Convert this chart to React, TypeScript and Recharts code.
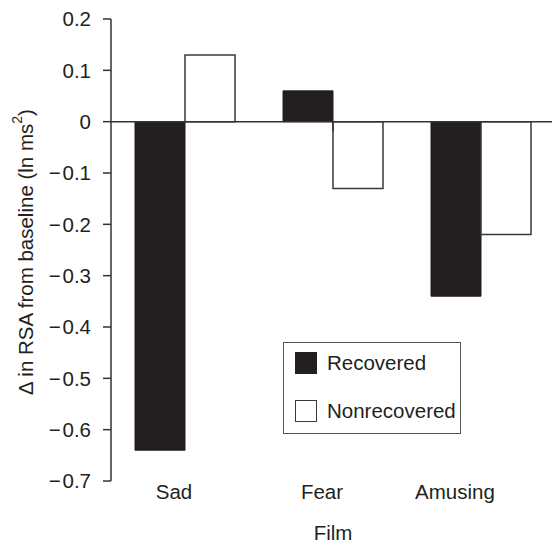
import React from "react"
import { BarChart, Bar, XAxis, YAxis, ReferenceLine, Legend } from "recharts"

const films = ["Sad", "Fear", "Amusing"]
const recovered = [-0.64, 0.06, -0.34]
const nonrecovered = [0.13, -0.13, -0.22]
const yTicks = [0.2, 0.1, 0, -0.1, -0.2, -0.3, -0.4, -0.5, -0.6, -0.7]
const seriesNames = ["Recovered", "Nonrecovered"]

const data = films.map((film, i) => ({
  film,
  Recovered: recovered[i],
  Nonrecovered: nonrecovered[i],
}))

const ink = "#231f20"
const axisColor = "#333"
const font = "'Liberation Sans', Arial, Helvetica, sans-serif"
const fs = 20.5

const swatch: Record<string, { fill: string; stroke: string }> = {
  Recovered: { fill: ink, stroke: ink },
  Nonrecovered: { fill: "#fff", stroke: "#3a3a3a" },
}

// labels in the original sit a little left of the bar pairs
const labelNudge: Record<string, number> = { Sad: -11, Fear: -11, Amusing: -26 }

function formatTick(v: number) {
  if (Math.abs(v) < 1e-9) return "0"
  const s = Math.abs(v).toFixed(1)
  return v < 0 ? "\u2212\u200a" + s : s
}

function FilmTick(props: any) {
  const { x, y, payload } = props
  return (
    <text x={x + (labelNudge[payload.value] || 0)} y={y} dy="0.71em" textAnchor="middle" fontSize={fs} fill={ink}>
      {payload.value}
    </text>
  )
}

function YLabel(props: any) {
  const vb = props.viewBox || { y: 19, height: 462 }
  const cx = 25
  const cy = vb.y + vb.height / 2 + 2
  return (
    <text
      x={cx}
      y={cy}
      transform={`rotate(-90 ${cx} ${cy})`}
      textAnchor="middle"
      dominantBaseline="central"
      fontSize={fs}
      fill={ink}
    >
      {"\u0394 in RSA from baseline (ln ms"}
      <tspan dy={-8} fontSize={14}>2</tspan>
      <tspan dy={8}>)</tspan>
    </text>
  )
}

function LegendBox() {
  return (
    <div
      style={{
        border: "1.5px solid #555",
        boxSizing: "border-box",
        width: 178,
        height: 92,
        padding: "9px 0 0 11px",
        fontFamily: font,
        fontSize: fs,
        color: ink,
        background: "#fff",
      }}
    >
      {seriesNames.map((name, i) => (
        <div
          key={name}
          style={{ display: "flex", alignItems: "center", height: 22, marginBottom: i === 0 ? 26 : 0 }}
        >
          <span
            style={{
              display: "inline-block",
              flex: "none",
              width: 22,
              height: 22,
              boxSizing: "border-box",
              background: swatch[name].fill,
              border: `1.5px solid ${swatch[name].stroke}`,
              marginRight: 10,
            }}
          />
          <span style={{ whiteSpace: "nowrap" }}>{name}</span>
        </div>
      ))}
    </div>
  )
}

export default function App() {
  return (
    <div
      style={{
        position: "absolute",
        left: 0,
        top: 0,
        width: 552,
        height: 543,
        overflow: "hidden",
        background: "#fff",
        fontFamily: font,
      }}
    >
      <BarChart
        width={556}
        height={543}
        data={data}
        margin={{ top: 19, right: 1, bottom: 0, left: 0 }}
        barSize={50}
        barGap={0}
      >
        <XAxis
          dataKey="film"
          axisLine={false}
          tickLine={false}
          tickSize={0}
          tickMargin={3}
          height={62}
          interval={0}
          tick={<FilmTick />}
          label={{ value: "Film", position: "insideBottom", offset: 3, fontSize: fs, fill: ink }}
        />
        <XAxis xAxisId="edges" type="number" domain={[0, 3]} hide />
        <YAxis
          width={111}
          domain={[-0.7, 0.2]}
          ticks={yTicks}
          interval={0}
          tickFormatter={formatTick}
          tickSize={8}
          tickMargin={12}
          stroke={axisColor}
          strokeWidth={1.5}
          tick={{ fontSize: fs, fill: ink }}
          label={<YLabel />}
        />
        <Legend
          layout="vertical"
          align="center"
          verticalAlign="middle"
          content={<LegendBox />}
          wrapperStyle={{ left: 283, top: 342, width: 178, height: 92 }}
        />
        <Bar dataKey="Recovered" fill={ink} stroke={ink} strokeWidth={1} isAnimationActive={false} />
        <Bar dataKey="Nonrecovered" fill="#fff" stroke="#3a3a3a" strokeWidth={1.5} isAnimationActive={false} />
        <ReferenceLine y={0} stroke={axisColor} strokeWidth={1.5} />
        <ReferenceLine
          xAxisId="edges"
          segment={[{ x: 1, y: 0 }, { x: 1, y: -0.019 }]}
          stroke={axisColor}
          strokeWidth={1.5}
        />
        <ReferenceLine
          xAxisId="edges"
          segment={[{ x: 2, y: 0 }, { x: 2, y: -0.019 }]}
          stroke={axisColor}
          strokeWidth={1.5}
        />
      </BarChart>
    </div>
  )
}
